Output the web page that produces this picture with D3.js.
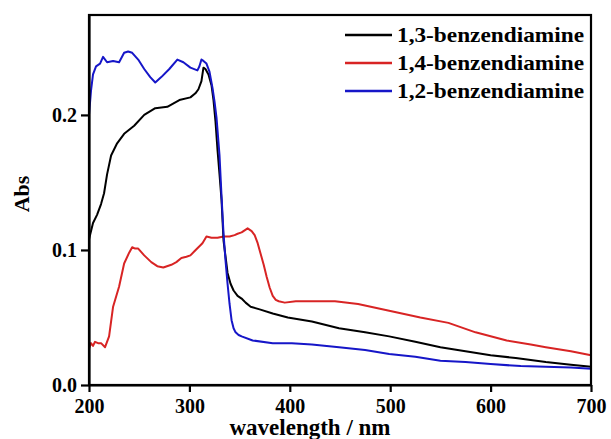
<!DOCTYPE html>
<html>
<head>
<meta charset="utf-8">
<script src="https://cdn.jsdelivr.net/npm/d3@7"></script>
<style>
  html, body { margin: 0; padding: 0; background: #fff; }
  svg { display: block; }
  text { font-family: "Liberation Serif", "Times New Roman", serif; font-weight: bold; }
</style>
</head>
<body>
<svg id="chart" width="611" height="439"></svg>
<script>
// ---- Data ----
const seriesNames = ["1,3-benzendiamine", "1,4-benzendiamine", "1,2-benzendiamine"];
const seriesColors = ["#000000", "#d82424", "#1616c8"];

const wl13 = [200,204,208,212,215,218,222,228,235,245,255,266,278,290,301,306,309,312,314,316,319,322,324,326,328,330,332,334,336,338,341,344,348,352,356,361,370,383,398,422,449,475,499,525,550,575,600,625,655,680,700];
const abs13 = [0.108,0.120,0.126,0.134,0.142,0.156,0.170,0.179,0.186,0.192,0.200,0.205,0.206,0.211,0.213,0.216,0.219,0.225,0.235,0.234,0.230,0.222,0.211,0.195,0.174,0.156,0.137,0.107,0.095,0.083,0.075,0.070,0.066,0.064,0.061,0.058,0.056,0.053,0.050,0.047,0.042,0.039,0.036,0.032,0.028,0.025,0.022,0.020,0.017,0.015,0.0135];

const wl14 = [200,202,204,206,209,212,216,220,224,230,235,240,243,246,249,255,262,268,274,282,287,292,297,301,305,309,313,317,322,328,334,340,345,348,352,358,362,365,368,371,374,377,380,383,386,389,395,406,422,445,468,499,530,558,585,616,640,655,680,700];
const abs14 = [0.027,0.031,0.029,0.032,0.031,0.031,0.028,0.036,0.058,0.073,0.090,0.098,0.102,0.101,0.101,0.096,0.091,0.088,0.087,0.089,0.091,0.094,0.095,0.096,0.099,0.102,0.105,0.110,0.109,0.109,0.110,0.110,0.111,0.112,0.113,0.116,0.114,0.111,0.105,0.097,0.089,0.080,0.072,0.066,0.063,0.062,0.061,0.062,0.062,0.062,0.060,0.055,0.050,0.046,0.039,0.033,0.030,0.028,0.025,0.022];

const wl12 = [200,202,204,207,211,214,218,224,230,235,239,243,249,255,261,266,272,280,288,294,301,308,310,312,314,317,320,323,325,327,330,332,334,336,338,340,342,344,346,349,352,363,383,402,422,449,475,499,525,550,575,600,630,655,680,700];
const abs12 = [0.200,0.218,0.230,0.236,0.238,0.243,0.239,0.240,0.239,0.246,0.247,0.246,0.241,0.234,0.228,0.224,0.228,0.234,0.241,0.239,0.235,0.233,0.236,0.241,0.240,0.238,0.232,0.220,0.210,0.198,0.170,0.140,0.112,0.092,0.075,0.060,0.048,0.042,0.039,0.037,0.036,0.033,0.031,0.031,0.030,0.028,0.026,0.023,0.021,0.018,0.017,0.0155,0.014,0.0135,0.013,0.012];

const xTicks = [200, 300, 400, 500, 600, 700];
const yTicks = [0.0, 0.1, 0.2];
const xLabel = "wavelength / nm";
const yLabel = "Abs";

// ---- Layout ----
const svg = d3.select("#chart");
const mLeft = 89, mRight = 591, mTop = 15, mBottom = 385;

const x = d3.scaleLinear().domain([200, 700]).range([mLeft, mRight]);
const y = d3.scaleLinear().domain([0, 0.274]).range([mBottom, mTop]);

const series = [
  {name: seriesNames[0], color: seriesColors[0], pts: wl13.map((w, i) => [w, abs13[i]])},
  {name: seriesNames[1], color: seriesColors[1], pts: wl14.map((w, i) => [w, abs14[i]])},
  {name: seriesNames[2], color: seriesColors[2], pts: wl12.map((w, i) => [w, abs12[i]])}
];

const line = d3.line().x(d => x(d[0])).y(d => y(d[1]));

const drawOrder = [1, 0, 2];
svg.append("g").selectAll("path")
  .data(drawOrder.map(i => series[i]))
  .join("path")
  .attr("d", d => line(d.pts))
  .attr("fill", "none")
  .attr("stroke", d => d.color)
  .attr("stroke-width", 2)
  .attr("stroke-linejoin", "round");

// frame
svg.append("rect")
  .attr("x", mLeft).attr("y", mTop)
  .attr("width", mRight - mLeft).attr("height", mBottom - mTop)
  .attr("fill", "none").attr("stroke", "#000").attr("stroke-width", 2.2);

// axes
const xAxis = svg.append("g")
  .attr("transform", `translate(0,${mBottom})`)
  .call(d3.axisBottom(x).tickValues(xTicks).tickSize(7).tickSizeOuter(0).tickPadding(7).tickFormat(d3.format("d")));
const yAxis = svg.append("g")
  .attr("transform", `translate(${mLeft},0)`)
  .call(d3.axisLeft(y).tickValues(yTicks).tickSize(8).tickSizeOuter(0).tickPadding(4).tickFormat(d3.format(".1f")));

[xAxis, yAxis].forEach(g => {
  g.select(".domain").attr("stroke", "#000").attr("stroke-width", 2.2);
  g.selectAll(".tick line").attr("stroke", "#000").attr("stroke-width", 2.2);
  g.selectAll(".tick text")
    .attr("fill", "#000")
    .style("font-family", '"Liberation Serif", serif')
    .style("font-weight", "bold")
    .style("font-size", "20px");
});

// axis titles
svg.append("text")
  .attr("x", 310).attr("y", 435)
  .attr("text-anchor", "middle")
  .style("font-size", "23px")
  .text(xLabel);

svg.append("text")
  .attr("transform", "translate(29,194) rotate(-90)")
  .attr("text-anchor", "middle")
  .style("font-size", "22px")
  .text(yLabel);

// legend
const legend = svg.append("g");
series.forEach((s, i) => {
  const ly = 35 + i * 28;
  legend.append("line")
    .attr("x1", 345).attr("x2", 392)
    .attr("y1", ly).attr("y2", ly)
    .attr("stroke", s.color).attr("stroke-width", 2.5);
  legend.append("text")
    .attr("x", 397).attr("y", ly + 7)
    .attr("textLength", 187)
    .attr("lengthAdjust", "spacingAndGlyphs")
    .style("font-size", "21px")
    .text(s.name);
});
</script>
</body>
</html>
